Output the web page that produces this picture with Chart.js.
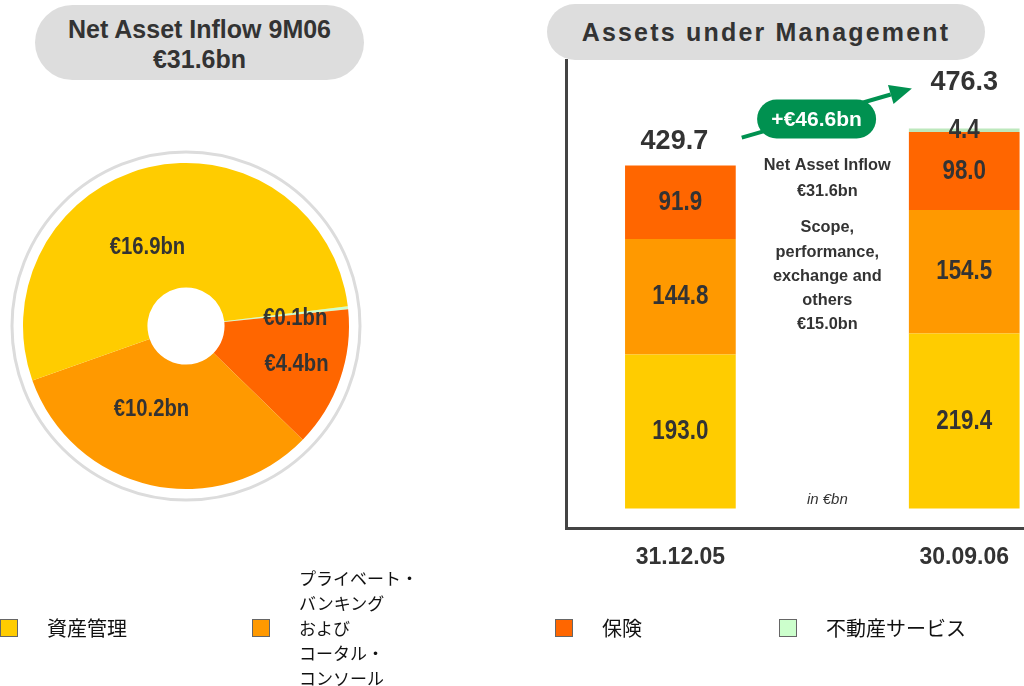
<!DOCTYPE html>
<html>
<head>
<meta charset="utf-8">
<script src="https://cdn.jsdelivr.net/npm/chart.js@4.4.0/dist/chart.umd.min.js"></script>
<style>
body { margin: 0; width: 1024px; height: 686px; overflow: hidden; background: #fff; position: relative; font-family: "Liberation Sans", Arial, sans-serif; }
.pill { position: absolute; background: #dddddd; color: #333; font-weight: bold; text-align: center; box-sizing: border-box; }
#pillLeft { left: 35px; top: 5px; width: 329px; height: 75px; border-radius: 38px; font-size: 25px; line-height: 30px; padding-top: 9px; }
#pillRight { left: 547px; top: 4px; width: 438px; height: 56px; border-radius: 28px; font-size: 25px; line-height: 56px; letter-spacing: 2.2px; }
#pieCanvas { position: absolute; left: 0; top: 140px; }
#barCanvas { position: absolute; left: 540px; top: 50px; }
#legend { position: absolute; left: 0; top: 565px; height: 121px; display: grid; grid-template-columns: 252px 303px 224px 245px; align-items: center; }
.item { display: flex; align-items: center; }
.sw { width: 18px; height: 18px; border: 1px solid #666; box-sizing: border-box; margin-right: 29px; flex: none; }
.lab { font-family: "Noto Sans CJK JP", sans-serif; font-size: 20px; color: #111; white-space: pre-line; line-height: 25px; }
.lab.multi { font-size: 17px; }
</style>
</head>
<body>
<div class="pill" id="pillLeft"></div>
<div class="pill" id="pillRight">Assets under Management</div>
<canvas id="pieCanvas" width="372" height="372"></canvas>
<canvas id="barCanvas" width="484" height="540"></canvas>
<div id="legend"></div>
<script>
// divisiones (orden de la leyenda)
const divisions = ['資産管理', 'プライベート・\nバンキング\nおよび\nコータル・\nコンソール', '保険', '不動産サービス'];
const divisionColors = ['#FFCC00', '#FF9900', '#FF6600', '#CCFFCC'];

// Net Asset Inflow 9M06, €bn
const netInflow = [16.9, 10.2, 4.4, 0.1];

// Assets under Management, €bn
const dates = ['31.12.05', '30.09.06'];
const aumAssetMgmt = [193.0, 219.4];
const aumPrivate = [144.8, 154.5];
const aumInsurance = [91.9, 98.0];
const aumRealEstate = [0, 4.4];
const aumTotal = [429.7, 476.3];

const textColor = '#333';
const green = '#009150';

// posicion de las etiquetas de la grafica circular (orden de la leyenda)
const pieLabelRadius = [0.39, 0.42, 0.63, 0.57];
const pieLabelTurn = [-13, 10, 0, 2.5];

const inflowSum = netInflow.reduce((a, b) => a + b, 0);
const growth = aumTotal[1] - aumTotal[0];

document.getElementById('pillLeft').innerHTML =
    'Net Asset Inflow 9M06<br>€' + inflowSum.toFixed(1) + 'bn';

// Leyenda
const legendDiv = document.getElementById('legend');
divisions.forEach((name, i) => {
    const item = document.createElement('div');
    item.className = 'item';
    const sw = document.createElement('span');
    sw.className = 'sw';
    sw.style.background = divisionColors[i];
    const lab = document.createElement('span');
    lab.className = name.includes('\n') ? 'lab multi' : 'lab';
    lab.textContent = name;
    item.appendChild(sw);
    item.appendChild(lab);
    legendDiv.appendChild(item);
});

function drawSqueezed(ctx, text, x, y, size, squeeze, color, style) {
    ctx.save();
    ctx.translate(x, y);
    ctx.scale(squeeze, 1);
    ctx.font = (style || 'bold') + ' ' + size + 'px "Liberation Sans", Arial, sans-serif';
    ctx.fillStyle = color || textColor;
    ctx.textAlign = 'center';
    ctx.textBaseline = 'middle';
    ctx.fillText(text, 0, 0);
    ctx.restore();
}

// Grafica circular
const pieLabels = {
    id: 'pieLabels',
    beforeDatasetsDraw(chart) {
        const arc = chart.getDatasetMeta(0).data[0];
        const ctx = chart.ctx;
        ctx.save();
        ctx.beginPath();
        ctx.arc(arc.x, arc.y, arc.outerRadius + 11, 0, Math.PI * 2);
        ctx.strokeStyle = '#dcdcdc';
        ctx.lineWidth = 3;
        ctx.stroke();
        ctx.restore();
    },
    afterDatasetsDraw(chart) {
        const values = chart.data.datasets[0].data;
        const n = values.length;
        chart.getDatasetMeta(0).data.forEach((arc, i) => {
            const k = n - 1 - i; // indice en orden de la leyenda
            const mid = (arc.startAngle + arc.endAngle) / 2 + pieLabelTurn[k] * Math.PI / 180;
            const r = arc.innerRadius + (arc.outerRadius - arc.innerRadius) * pieLabelRadius[k];
            drawSqueezed(chart.ctx, '€' + values[i].toFixed(1) + 'bn',
                arc.x + Math.cos(mid) * r, arc.y + Math.sin(mid) * r, 23, 0.88);
        });
    }
};

new Chart(document.getElementById('pieCanvas'), {
    type: 'doughnut',
    data: {
        labels: divisions.slice().reverse(),
        datasets: [{
            data: netInflow.slice().reverse(),
            backgroundColor: divisionColors.slice().reverse(),
            borderWidth: 0,
            hoverOffset: 0
        }]
    },
    options: {
        responsive: false,
        animation: false,
        radius: 163,
        cutout: 44,
        rotation: 83,
        plugins: { legend: { display: false }, tooltip: { enabled: false } }
    },
    plugins: [pieLabels]
});

// Grafica de barras apiladas
const totalOffsets = [24, 46];

const barLabels = {
    id: 'barLabels',
    afterDatasetsDraw(chart) {
        const ctx = chart.ctx;
        chart.data.datasets.forEach((ds, di) => {
            chart.getDatasetMeta(di).data.forEach((bar, i) => {
                const v = ds.data[i];
                if (!v) return;
                drawSqueezed(ctx, v.toFixed(1), bar.x, (bar.y + bar.base) / 2, 28, 0.8);
            });
        });
        const yScale = chart.scales.y;
        const bars = chart.getDatasetMeta(0).data;
        aumTotal.forEach((t, i) => {
            drawSqueezed(ctx, t.toFixed(1), bars[i].x - (i === 0 ? 6 : 0), yScale.getPixelForValue(t) - totalOffsets[i], 27, 1);
        });

        // texto central
        const cx = chart.scales.x.getPixelForValue(0.5) + 5;
        const top = chart.chartArea.top;
        const notes = [
            ['Net Asset Inflow', 105],
            ['€' + inflowSum.toFixed(1) + 'bn', 131],
            ['Scope,', 167],
            ['performance,', 192],
            ['exchange and', 216],
            ['others', 240],
            ['€' + (growth - inflowSum).toFixed(1) + 'bn', 264]
        ];
        notes.forEach(([txt, dy]) => drawSqueezed(ctx, txt, cx, top + dy, 17, 0.96));
        drawSqueezed(ctx, 'in €bn', cx, yScale.getPixelForValue(0) - 9, 15, 1, textColor, 'italic');
    },
    afterDraw(chart) {
        const ctx = chart.ctx;
        const yScale = chart.scales.y;
        const bars = chart.getDatasetMeta(0).data;
        const s = { x: bars[0].x + bars[0].width / 2 + 6, y: yScale.getPixelForValue(aumTotal[0]) - 28 };
        const e = { x: bars[1].x - bars[1].width / 2 + 3, y: yScale.getPixelForValue(aumTotal[1]) - 40 };
        const len = Math.hypot(e.x - s.x, e.y - s.y);
        const ux = (e.x - s.x) / len, uy = (e.y - s.y) / len;
        const head = 22, half = 10;

        ctx.save();
        ctx.strokeStyle = green;
        ctx.fillStyle = green;
        ctx.lineWidth = 4;
        ctx.beginPath();
        ctx.moveTo(s.x, s.y);
        ctx.lineTo(e.x - ux * head, e.y - uy * head);
        ctx.stroke();
        ctx.beginPath();
        ctx.moveTo(e.x, e.y);
        ctx.lineTo(e.x - ux * head - uy * half, e.y - uy * head + ux * half);
        ctx.lineTo(e.x - ux * head + uy * half, e.y - uy * head - ux * half);
        ctx.closePath();
        ctx.fill();

        // etiqueta verde
        const px = s.x + (e.x - s.x) * 0.44;
        const py = s.y + (e.y - s.y) * 0.44 + 3;
        const w = 119, h = 39;
        ctx.beginPath();
        ctx.roundRect(px - w / 2, py - h / 2, w, h, h / 2);
        ctx.fill();
        ctx.restore();
        drawSqueezed(ctx, '+€' + growth.toFixed(1) + 'bn', px, py + 1, 21, 1, '#ffffff');
    }
};

new Chart(document.getElementById('barCanvas'), {
    type: 'bar',
    data: {
        labels: dates.map((d, i) => i),
        datasets: [
            { label: divisions[0], data: aumAssetMgmt, backgroundColor: divisionColors[0] },
            { label: divisions[1], data: aumPrivate, backgroundColor: divisionColors[1] },
            { label: divisions[2], data: aumInsurance, backgroundColor: divisionColors[2] },
            { label: divisions[3], data: aumRealEstate, backgroundColor: '#BDE8BD' }
        ]
    },
    options: {
        responsive: false,
        animation: false,
        categoryPercentage: 1,
        barPercentage: 0.39,
        layout: { padding: { left: 26, top: 10, right: 0, bottom: 4 } },
        plugins: { legend: { display: false }, tooltip: { enabled: false } },
        scales: {
            x: {
                type: 'linear',
                stacked: true,
                offset: false,
                min: -0.403,
                max: 1.21,
                grid: { display: false, drawTicks: false, offset: false },
                border: { color: '#444', width: 3 },
                afterBuildTicks: scale => { scale.ticks = dates.map((d, i) => ({ value: i })); },
                ticks: {
                    autoSkip: false,
                    maxRotation: 0,
                    padding: 15,
                    color: textColor,
                    font: { family: '"Liberation Sans", Arial, sans-serif', size: 23, weight: 'bold' },
                    callback: value => dates[value]
                }
            },
            y: {
                stacked: true,
                min: -25,
                max: 562,
                grid: { display: false, drawTicks: false },
                border: { color: '#444', width: 3 },
                ticks: { display: false }
            }
        }
    },
    plugins: [barLabels]
});
</script>
</body>
</html>
